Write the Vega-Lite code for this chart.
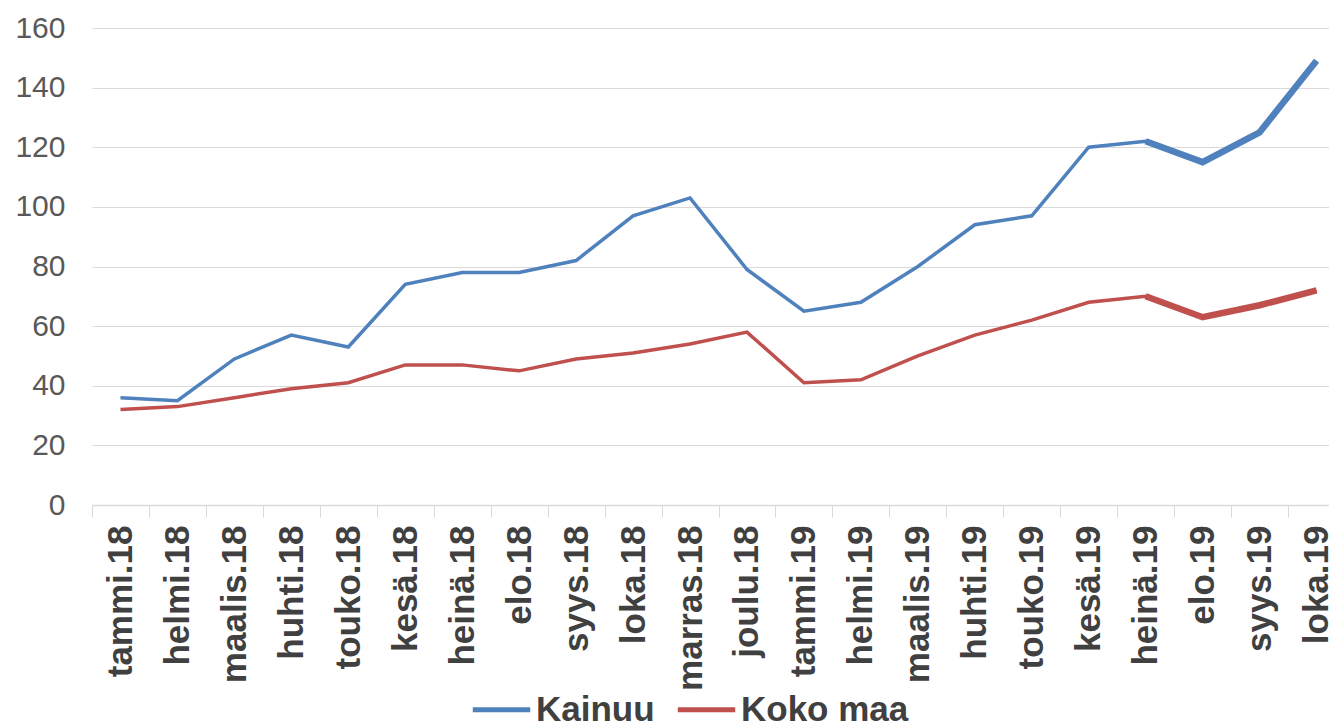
{
  "$schema": "https://vega.github.io/schema/vega-lite/v6.json",
  "autosize": "none",
  "padding": {"left": 92, "top": 28, "right": 0, "bottom": 221},
  "width": 1237,
  "height": 477,
  "background": "white",
  "config": {
    "view": {"stroke": null},
    "font": "Liberation Sans"
  },
  "data": {
    "values": [
      {"kk": "tammi.18", "sarja": "Kainuu", "arvo": 36},
      {"kk": "helmi.18", "sarja": "Kainuu", "arvo": 35},
      {"kk": "maalis.18", "sarja": "Kainuu", "arvo": 49},
      {"kk": "huhti.18", "sarja": "Kainuu", "arvo": 57},
      {"kk": "touko.18", "sarja": "Kainuu", "arvo": 53},
      {"kk": "kesä.18", "sarja": "Kainuu", "arvo": 74},
      {"kk": "heinä.18", "sarja": "Kainuu", "arvo": 78},
      {"kk": "elo.18", "sarja": "Kainuu", "arvo": 78},
      {"kk": "syys.18", "sarja": "Kainuu", "arvo": 82},
      {"kk": "loka.18", "sarja": "Kainuu", "arvo": 97},
      {"kk": "marras.18", "sarja": "Kainuu", "arvo": 103},
      {"kk": "joulu.18", "sarja": "Kainuu", "arvo": 79},
      {"kk": "tammi.19", "sarja": "Kainuu", "arvo": 65},
      {"kk": "helmi.19", "sarja": "Kainuu", "arvo": 68},
      {"kk": "maalis.19", "sarja": "Kainuu", "arvo": 80},
      {"kk": "huhti.19", "sarja": "Kainuu", "arvo": 94},
      {"kk": "touko.19", "sarja": "Kainuu", "arvo": 97},
      {"kk": "kesä.19", "sarja": "Kainuu", "arvo": 120},
      {"kk": "heinä.19", "sarja": "Kainuu", "arvo": 122},
      {"kk": "elo.19", "sarja": "Kainuu", "arvo": 115},
      {"kk": "syys.19", "sarja": "Kainuu", "arvo": 125},
      {"kk": "loka.19", "sarja": "Kainuu", "arvo": 149},
      {"kk": "tammi.18", "sarja": "Koko maa", "arvo": 32},
      {"kk": "helmi.18", "sarja": "Koko maa", "arvo": 33},
      {"kk": "maalis.18", "sarja": "Koko maa", "arvo": 36},
      {"kk": "huhti.18", "sarja": "Koko maa", "arvo": 39},
      {"kk": "touko.18", "sarja": "Koko maa", "arvo": 41},
      {"kk": "kesä.18", "sarja": "Koko maa", "arvo": 47},
      {"kk": "heinä.18", "sarja": "Koko maa", "arvo": 47},
      {"kk": "elo.18", "sarja": "Koko maa", "arvo": 45},
      {"kk": "syys.18", "sarja": "Koko maa", "arvo": 49},
      {"kk": "loka.18", "sarja": "Koko maa", "arvo": 51},
      {"kk": "marras.18", "sarja": "Koko maa", "arvo": 54},
      {"kk": "joulu.18", "sarja": "Koko maa", "arvo": 58},
      {"kk": "tammi.19", "sarja": "Koko maa", "arvo": 41},
      {"kk": "helmi.19", "sarja": "Koko maa", "arvo": 42},
      {"kk": "maalis.19", "sarja": "Koko maa", "arvo": 50},
      {"kk": "huhti.19", "sarja": "Koko maa", "arvo": 57},
      {"kk": "touko.19", "sarja": "Koko maa", "arvo": 62},
      {"kk": "kesä.19", "sarja": "Koko maa", "arvo": 68},
      {"kk": "heinä.19", "sarja": "Koko maa", "arvo": 70},
      {"kk": "elo.19", "sarja": "Koko maa", "arvo": 63},
      {"kk": "syys.19", "sarja": "Koko maa", "arvo": 67},
      {"kk": "loka.19", "sarja": "Koko maa", "arvo": 72}
    ]
  },
  "encoding": {
    "x": {
      "field": "kk",
      "type": "nominal",
      "sort": null,
      "scale": {"type": "band", "range": [0, 1253], "paddingInner": 0, "paddingOuter": 0},
      "axis": {
        "title": null,
        "labelAngle": -90,
        "labelFontSize": 35,
        "labelFontWeight": "bold",
        "labelColor": "#404040",
        "labelPadding": 8,
        "tickBand": "extent",
        "tickSize": 12,
        "tickColor": "#d9d9d9",
        "domainColor": "#d9d9d9",
        "domainWidth": 1.5,
        "grid": false,
        "labelOverlap": false
      }
    },
    "y": {
      "field": "arvo",
      "type": "quantitative",
      "scale": {"domain": [0, 160], "nice": false},
      "axis": {
        "title": null,
        "values": [0, 20, 40, 60, 80, 100, 120, 140, 160],
        "labelFontSize": 30,
        "labelColor": "#595959",
        "labelPadding": 27,
        "ticks": false,
        "tickSize": 0,
        "domain": false,
        "gridColor": "#d9d9d9",
        "gridWidth": 1.2
      }
    },
    "color": {
      "field": "sarja",
      "type": "nominal",
      "scale": {"domain": ["Kainuu", "Koko maa"], "range": ["#4F81BD", "#C0504D"]},
      "legend": {
        "title": null,
        "orient": "none",
        "legendX": 378,
        "legendY": 650,
        "direction": "horizontal",
        "symbolType": "stroke",
        "symbolSize": 3300,
        "symbolStrokeWidth": 5,
        "labelFontSize": 35,
        "labelFontWeight": "bold",
        "labelColor": "#404040",
        "labelOffset": 3,
        "columnPadding": 12,
        "labelLimit": 400
      }
    }
  },
  "layer": [
    {
      "mark": {"type": "line", "strokeWidth": 3.5}
    },
    {
      "transform": [{"filter": {"field": "kk", "oneOf": ["heinä.19", "elo.19", "syys.19", "loka.19"]}}],
      "mark": {"type": "line", "strokeWidth": 6.5}
    }
  ]
}
